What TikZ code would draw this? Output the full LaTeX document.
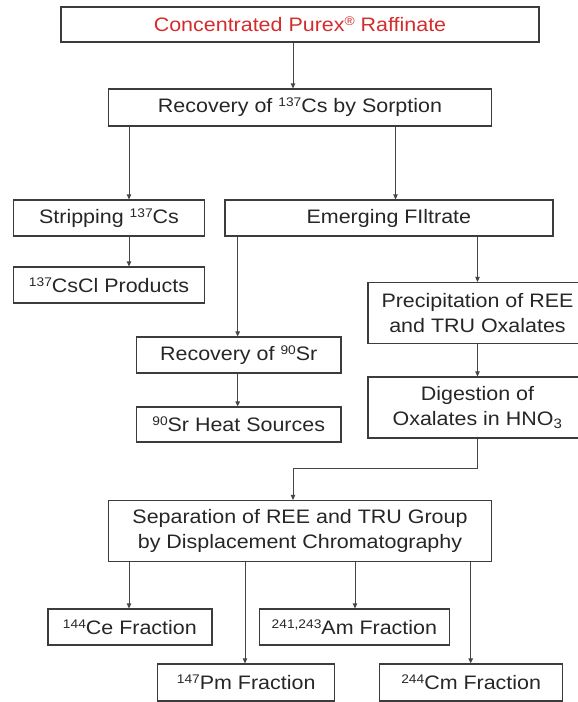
\documentclass[tikz,border=0pt]{standalone}
\usepackage{fontspec}
\setmainfont{Liberation Sans}[FakeStretch=1.1]
\usetikzlibrary{arrows.meta}
\definecolor{redtxt}{RGB}{212,44,44}
\definecolor{boxline}{RGB}{60,60,60}
\definecolor{conline}{RGB}{70,70,70}
\newcommand\isot[1]{\raisebox{6.3pt}{\fontsize{12.5}{12.5}\selectfont #1}}
\tikzset{
  box/.style={draw=boxline, line width=1.2pt, inner sep=0pt, align=center,
    font=\fontsize{19.5}{25}\selectfont, text=black!85},
  arr/.style={draw=conline, line width=0.9pt, -{Triangle[length=5pt,width=4.5pt]}},
}
\begin{document}
\begin{tikzpicture}[x=1pt,y=-1pt]
\useasboundingbox (0,0) rectangle (578,702);
% nodes
\node[box, text=redtxt, minimum width=478, minimum height=35] (top) at (300,24.5) {Concentrated Purex\isot{®} Raffinate};
\node[box, minimum width=382.6, minimum height=37] (rec) at (300,107.5) {Recovery of \isot{137}Cs by Sorption};
\node[box, minimum width=191, minimum height=36] (strip) at (109,218) {Stripping \isot{137}Cs};
\node[box, minimum width=328, minimum height=36] (emerg) at (388.9,218) {Emerging FIltrate};
\node[box, minimum width=191, minimum height=36] (cscl) at (109,285) {\isot{137}CsCl Products};
\node[box, minimum width=219, minimum height=61] (precip) at (477.5,313) {Precipitation of REE\\and TRU Oxalates};
\node[box, minimum width=204.6, minimum height=36] (recsr) at (238.7,355) {Recovery of \isot{90}Sr};
\node[box, minimum width=204.6, minimum height=35] (heat) at (238.7,424.5) {\isot{90}Sr Heat Sources};
\node[box, minimum width=219, minimum height=61] (digest) at (477.5,407.5) {Digestion of\\Oxalates in HNO\textsubscript{3}};
\node[box, minimum width=382.6, minimum height=61] (sep) at (300,531) {Separation of REE and TRU Group\\by Displacement Chromatography};
\node[box, minimum width=164, minimum height=36] (ce) at (129.9,627) {\isot{144}Ce Fraction};
\node[box, minimum width=190.6, minimum height=36] (am) at (354.4,627) {\isot{241,243}Am Fraction};
\node[box, minimum width=177, minimum height=37] (pm) at (246.2,682.5) {\isot{147}Pm Fraction};
\node[box, minimum width=183, minimum height=37] (cm) at (471.2,682.5) {\isot{244}Cm Fraction};
% connector x-positions
\coordinate (xa) at (293,0);
\coordinate (xb) at (129,0);
\coordinate (xc) at (395.5,0);
\coordinate (xd) at (237.7,0);
\coordinate (xe) at (477.5,0);
\coordinate (xf) at (245,0);
\coordinate (xg) at (355,0);
\coordinate (xh) at (470.7,0);
\coordinate (bend1) at (477.5,468);
\coordinate (bend2) at (293,468);
% connectors
\draw[arr] (top.south -| xa) -- (rec.north -| xa);
\draw[arr] (rec.south -| xb) -- (strip.north -| xb);
\draw[arr] (rec.south -| xc) -- (emerg.north -| xc);
\draw[arr] (strip.south -| xb) -- (cscl.north -| xb);
\draw[arr] (emerg.south -| xd) -- (recsr.north -| xd);
\draw[arr] (emerg.south -| xe) -- (precip.north -| xe);
\draw[arr] (recsr.south -| xd) -- (heat.north -| xd);
\draw[arr] (precip.south -| xe) -- (digest.north -| xe);
\draw[arr] (digest.south -| xe) -- (bend1) -- (bend2) -- (sep.north -| bend2);
\draw[arr] (sep.south -| xb) -- (ce.north -| xb);
\draw[arr] (sep.south -| xf) -- (pm.north -| xf);
\draw[arr] (sep.south -| xg) -- (am.north -| xg);
\draw[arr] (sep.south -| xh) -- (cm.north -| xh);
\end{tikzpicture}
\end{document}
